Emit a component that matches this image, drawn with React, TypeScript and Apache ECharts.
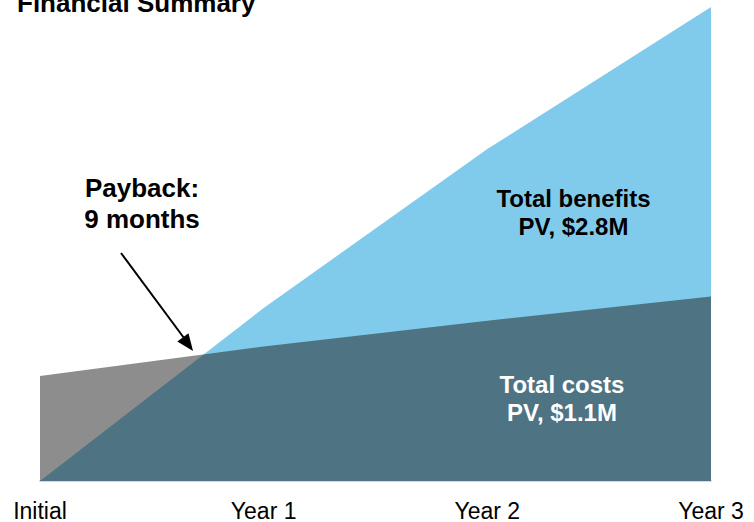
import React, { useEffect, useRef } from "react";
import * as echarts from "echarts";

const categories = ["Initial", "Year 1", "Year 2", "Year 3"];
const benefits = [0, 1095, 2101, 3000];
const costs = [665, 852, 1015, 1168];

const FONT = "'Liberation Sans', Arial, sans-serif";

export default function App() {
  const ref = useRef<HTMLDivElement>(null);
  useEffect(() => {
    if (!ref.current) return;
    const chart = echarts.init(ref.current, null, { renderer: "svg" });
    chart.setOption({
      animation: false,
      grid: { left: 40, right: 43, top: 7, bottom: 41, containLabel: false },
      xAxis: {
        type: "category",
        data: categories,
        boundaryGap: false,
        axisLine: { show: true, lineStyle: { color: "#d9d9d9", width: 2 } },
        axisTick: { show: false },
        splitLine: { show: false },
        axisLabel: { color: "#000", fontSize: 23, fontFamily: FONT, margin: 18 },
      },
      yAxis: {
        type: "value",
        min: 0,
        max: 3000,
        show: false,
        splitLine: { show: false },
      },
      series: [
        {
          name: "Total benefits",
          type: "line",
          data: benefits,
          symbol: "none",
          lineStyle: { width: 0 },
          areaStyle: { color: "#80cbeb", opacity: 1 },
          z: 2,
        },
        {
          name: "Total costs",
          type: "line",
          data: costs,
          symbol: "none",
          lineStyle: { width: 0 },
          areaStyle: { color: "rgb(28,28,28)", opacity: 0.5 },
          z: 3,
        },
      ],
      graphic: [
        {
          type: "text",
          left: 17,
          top: -10,
          style: { text: "Financial Summary", font: `bold 26px ${FONT}`, fill: "#000" },
          z: 10,
        },
        {
          type: "text",
          x: 142,
          y: 188,
          style: { text: "Payback:", font: `bold 26px ${FONT}`, fill: "#000", textAlign: "center", textVerticalAlign: "middle" },
          z: 10,
        },
        {
          type: "text",
          x: 142,
          y: 219,
          style: { text: "9 months", font: `bold 26px ${FONT}`, fill: "#000", textAlign: "center", textVerticalAlign: "middle" },
          z: 10,
        },
        {
          type: "line",
          shape: { x1: 121, y1: 253, x2: 184, y2: 338 },
          style: { stroke: "#000", lineWidth: 2 },
          z: 10,
        },
        {
          type: "polygon",
          shape: { points: [[193, 351], [177.3, 341.4], [188.5, 333.2]] },
          style: { fill: "#000" },
          z: 10,
        },
        {
          type: "text",
          x: 573.5,
          y: 198.7,
          style: { text: "Total benefits", font: `bold 24px ${FONT}`, fill: "#000", textAlign: "center", textVerticalAlign: "middle" },
          z: 10,
        },
        {
          type: "text",
          x: 573.5,
          y: 226.7,
          style: { text: "PV, $2.8M", font: `bold 24px ${FONT}`, fill: "#000", textAlign: "center", textVerticalAlign: "middle" },
          z: 10,
        },
        {
          type: "text",
          x: 562,
          y: 384.7,
          style: { text: "Total costs", font: `bold 24px ${FONT}`, fill: "#fff", textAlign: "center", textVerticalAlign: "middle" },
          z: 10,
        },
        {
          type: "text",
          x: 562,
          y: 412.7,
          style: { text: "PV, $1.1M", font: `bold 24px ${FONT}`, fill: "#fff", textAlign: "center", textVerticalAlign: "middle" },
          z: 10,
        },
      ],
    });
    return () => chart.dispose();
  }, []);
  return (
    <div
      ref={ref}
      style={{ position: "fixed", left: 0, top: 0, width: 754, height: 522, background: "#fff" }}
    />
  );
}
